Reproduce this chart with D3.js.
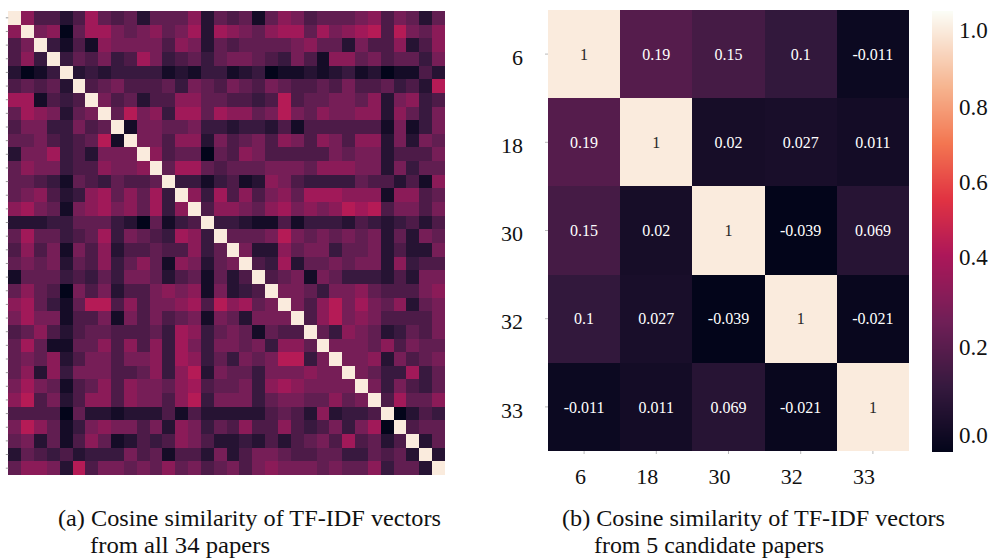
<!DOCTYPE html>
<html>
<head>
<meta charset="utf-8">
<title>Cosine similarity heatmaps</title>
<script src="https://d3js.org/d3.v7.min.js"></script>
<style>
html, body { margin: 0; padding: 0; background: #fff; overflow: hidden; }
svg { display: block; font-family: "Liberation Serif", "Times New Roman", serif; }
</style>
</head>
<body>
<svg width="1001" height="559"></svg>
<script>
// seaborn "rocket" palette, sampled at 0, 1/7, ... 1
const rocketStops = ["#03051a", "#35193e", "#701f57", "#ad1759", "#e13342", "#f37651", "#f6b48f", "#faebdd"];

// (a) all 34 papers: upper triangle, row i holds columns i+1 .. 33
const nPapers = 34;
const upper = [
  [.35,.2,.2,.1,.2,.4,.25,.2,.25,.1,.25,.25,.25,.35,.1,.25,.2,.25,.05,.25,.35,.3,.2,.25,.25,.25,.3,.35,.2,.3,.25,.1,.25],
  [.3,.35,0,.25,.4,.4,.3,.25,.3,.35,.25,.3,.4,.1,.4,.35,.3,.25,.35,.4,.4,.25,.4,.3,.35,.4,.45,.2,.45,.3,.25,.35],
  [.15,.05,.2,.05,.35,.3,.3,.3,.3,.2,.35,.3,.1,.25,.2,.25,.25,.25,.25,.3,.35,.25,.25,.1,.3,.2,.2,.35,.1,.2,.35],
  [.15,.25,.2,.3,.15,.2,.4,.3,.15,.2,.25,.15,.25,.3,.3,.25,.2,.15,.3,.2,.05,.35,.35,.25,.3,.2,.25,.25,.15,.3],
  [.1,.15,.1,.15,.15,.15,.15,.05,.1,.05,.15,.15,.05,.1,.15,0,.05,.05,.1,.05,.1,.15,.05,.1,0,.05,.05,.2,.1],
  [.2,.25,.3,.2,.2,.2,.25,.15,.3,.25,.2,.3,.25,.2,.3,.25,.2,.2,.25,.2,.3,.2,.2,.25,.15,.2,.1,.45],
  [.3,.2,.25,.1,.2,.2,.35,.35,.25,.25,.2,.2,.15,.2,.45,.2,.25,.25,.3,.3,.25,.35,.1,.3,.35,.15,.2],
  [.25,.45,.3,.35,.15,.4,.4,.25,.4,.35,.35,.25,.3,.45,.3,.25,.35,.3,.3,.35,.35,.1,.35,.25,.15,.3],
  [.05,.3,.3,.25,.25,.3,.15,.15,.1,.15,.15,.1,.2,.05,.2,.2,.2,.2,.2,.2,.05,.3,.05,.15,.3],
  [.3,.3,.2,.35,.35,.1,.3,.2,.25,.3,.2,.35,.3,.2,.35,.3,.2,.35,.35,.1,.3,.1,.3,.25],
  [.35,.2,.25,.25,0,.25,.2,.35,.3,.2,.2,.2,.2,.2,.3,.25,.3,.3,.1,.2,.2,.2,.3],
  [.25,.4,.4,.25,.2,.25,.25,.25,.3,.3,.3,.25,.35,.35,.35,.3,.3,.1,.3,.15,.25,.25],
  [.15,.15,.05,.15,.2,.05,.1,.35,.3,.2,.15,.15,.15,.15,.25,.2,.2,.1,.2,.05,.35],
  [.35,.15,.4,.2,.35,.2,.3,.35,.25,.4,.4,.4,.35,.35,.35,.05,.35,.35,.2,.25],
  [.2,.35,.35,.3,.25,.35,.4,.3,.35,.3,.35,.45,.4,.45,.2,.3,.3,.2,.3],
  [.15,.15,.1,.05,.05,.2,.05,.15,.15,.15,.1,.2,.15,.1,.15,.2,.1,.2],
  [.25,.25,.25,.3,.45,.3,.25,.3,.25,.3,.25,.3,.1,.25,.1,.3,.25],
  [.3,.1,.1,.35,.25,.3,.3,.15,.25,.25,.3,.1,.2,.1,.1,.3],
  [.2,.15,.4,.1,.25,.25,.3,.25,.3,.3,.1,.35,.15,.2,.2],
  [.2,.25,.3,.05,.3,.25,.15,.15,.15,.1,.2,.1,.3,.3],
  [.3,.3,.25,.15,.3,.3,.35,.25,.2,.2,.2,.3,.35],
  [.3,.2,.35,.45,.3,.4,.3,.25,.35,.1,.25,.3],
  [.2,.35,.45,.3,.35,.3,.2,.2,.2,.2,.3],
  [.25,.15,.35,.3,.25,.1,.15,.25,.2,.3],
  [.3,.3,.3,.25,.35,.2,.3,.25,.25],
  [.3,.3,.35,.1,.3,.2,.25,.3],
  [.3,.25,.15,.15,.4,.15,.25],
  [.3,.15,.3,.2,.15,.25],
  [.2,.4,.25,.25,.35],
  [0,.1,.2,.15],
  [.2,.25,.25],
  [.1,.25],
  [.1]
];

// (b) 5 candidate papers
const candLabels = ["6", "18", "30", "32", "33"];
const candValues = [
  [1, 0.19, 0.15, 0.1, -0.011],
  [0.19, 1, 0.02, 0.027, 0.011],
  [0.15, 0.02, 1, -0.039, 0.069],
  [0.1, 0.027, -0.039, 1, -0.021],
  [-0.011, 0.011, 0.069, -0.021, 1]
];
const cbTicks = [0, 0.2, 0.4, 0.6, 0.8, 1.0];
const cbTop = 1.05;

const captionA = ["(a) Cosine similarity of TF-IDF vectors", "from all 34 papers"];
const captionB = ["(b) Cosine similarity of TF-IDF vectors", "from 5 candidate papers"];

const svg = d3.select("svg");
const rocket = d3.piecewise(d3.interpolateRgb, rocketStops);

// full symmetric matrix from the upper triangle
const cellsA = [];
for (let i = 0; i < nPapers; i++) {
  for (let j = 0; j < nPapers; j++) {
    let v;
    if (i === j) v = 1;
    else if (i < j) v = upper[i][j - i - 1];
    else v = upper[j][i - j - 1];
    cellsA.push({ r: i, c: j, v: v });
  }
}

// ---------- (a) ----------
const xA = d3.scaleBand().domain(d3.range(nPapers)).range([8.3, 445]);
const yA = d3.scaleBand().domain(d3.range(nPapers)).range([11, 475]);
const colorA = d3.scaleSequential(rocket).domain([d3.min(cellsA, d => d.v), 1]);

const gA = svg.append("g");
gA.append("g")
  .attr("shape-rendering", "crispEdges")
  .selectAll("rect")
  .data(cellsA)
  .join("rect")
  .attr("x", d => xA(d.c))
  .attr("y", d => yA(d.r))
  .attr("width", xA.bandwidth() + 0.4)
  .attr("height", yA.bandwidth() + 0.4)
  .attr("fill", d => colorA(d.v));

const axA = gA.append("g")
  .attr("transform", "translate(8.3,0)")
  .call(d3.axisLeft(yA).tickSize(2.5).tickFormat(""));
axA.select(".domain").remove();
axA.selectAll("line").attr("stroke", "#9a9a9a");

// ---------- (b) ----------
const xB = d3.scaleBand().domain(candLabels).range([548, 909]);
const yB = d3.scaleBand().domain(candLabels).range([10, 451]);
const colorB = d3.scaleSequential(rocket).domain([d3.min(candValues.flat()), d3.max(candValues.flat())]);

const cellsB = [];
candValues.forEach((row, i) => row.forEach((v, j) => cellsB.push({ r: candLabels[i], c: candLabels[j], v: v })));

const gB = svg.append("g");
gB.append("g")
  .attr("shape-rendering", "crispEdges")
  .selectAll("rect")
  .data(cellsB)
  .join("rect")
  .attr("x", d => xB(d.c))
  .attr("y", d => yB(d.r))
  .attr("width", xB.bandwidth() + 0.4)
  .attr("height", yB.bandwidth() + 0.4)
  .attr("fill", d => colorB(d.v));

gB.append("g")
  .selectAll("text")
  .data(cellsB)
  .join("text")
  .attr("x", d => xB(d.c) + xB.bandwidth() / 2)
  .attr("y", d => yB(d.r) + yB.bandwidth() / 2)
  .attr("dy", "0.35em")
  .attr("text-anchor", "middle")
  .attr("font-size", 16)
  .attr("fill", d => d3.hsl(colorB(d.v)).l > 0.6 ? "#262626" : "#ffffff")
  .text(d => String(d.v));

const axBL = gB.append("g")
  .attr("transform", "translate(548,0)")
  .call(d3.axisLeft(yB).tickSize(3).tickPadding(22));
axBL.select(".domain").remove();
axBL.selectAll("line").attr("stroke", "#bbbbbb");
axBL.selectAll("text")
  .attr("font-family", "Liberation Serif, Times New Roman, serif")
  .attr("font-size", 22)
  .attr("fill", "#111")
  .attr("dy", "0.49em");

const axBB = gB.append("g")
  .attr("transform", "translate(0,451)")
  .call(d3.axisBottom(xB).tickSize(3).tickPadding(14));
axBB.select(".domain").remove();
axBB.selectAll("line").attr("stroke", "#bbbbbb");
axBB.selectAll("text")
  .attr("font-family", "Liberation Serif, Times New Roman, serif")
  .attr("font-size", 22)
  .attr("fill", "#111")
  .attr("text-anchor", "end")
  .attr("dx", 2);

// ---------- colour bar ----------
const cbScale = d3.scaleLinear().domain(cbTicks).range([435, 347, 257, 182, 107, 30]);
const cbX = 931.7, cbW = 21.6;
const cbY0 = Math.round(cbScale(cbTop)), cbY1 = Math.round(cbScale(colorB.domain()[0]));
const cbRows = d3.range(cbY0, cbY1);
svg.append("g")
  .attr("shape-rendering", "crispEdges")
  .selectAll("rect")
  .data(cbRows)
  .join("rect")
  .attr("x", cbX)
  .attr("y", d => d)
  .attr("width", cbW)
  .attr("height", 1.2)
  .attr("fill", d => colorB(cbScale.invert(d + 0.5)));

svg.append("g")
  .selectAll("text")
  .data(cbTicks)
  .join("text")
  .attr("x", 959)
  .attr("y", d => cbScale(d))
  .attr("dy", "0.35em")
  .attr("font-size", 23)
  .attr("fill", "#111")
  .text(d3.format(".1f"));

// ---------- captions ----------
function caption(lines, x1, w1, w2) {
  const g = svg.append("g").attr("font-size", 24).attr("fill", "#111");
  g.append("text")
    .attr("x", x1).attr("y", 526)
    .attr("textLength", w1).attr("lengthAdjust", "spacingAndGlyphs")
    .text(lines[0]);
  g.append("text")
    .attr("x", x1 + 32).attr("y", 553)
    .attr("textLength", w2).attr("lengthAdjust", "spacingAndGlyphs")
    .text(lines[1]);
}
caption(captionA, 58, 383, 180);
caption(captionB, 562, 383, 230);
</script>
</body>
</html>
